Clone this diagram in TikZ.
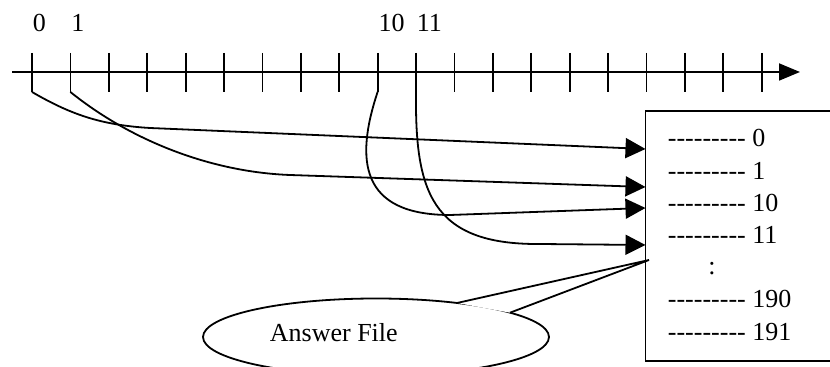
\documentclass[tikz,border=0pt]{standalone}
\usepackage{fontspec}
\setmainfont{Liberation Serif}[Ligatures=TeXOff]
\usetikzlibrary{arrows.meta, shapes.geometric, positioning}

\begin{document}
\begin{tikzpicture}[x=0.5pt, y=-0.5pt, line width=0.9pt,
  lbl/.style={inner sep=0pt, anchor=base west, font=\fontsize{13}{15.6}\selectfont},
  link/.style={-{Triangle[length=10pt, width=10pt]}}]
  \useasboundingbox (0,0) rectangle (830,367);
  \clip (0,0) rectangle (830,367);

  % Number line
  \draw[-{Triangle[length=10.5pt, width=8.5pt]}] (12,72) -- (800,72);
  \foreach \i in {0,...,19} {
    \draw (32+38.4*\i,53) -- (32+38.4*\i,92) coordinate (t\i);
  }
  \foreach \i/\v in {0/0, 1/1, 9/10, 10/11} {
    \node[lbl] (n\v) at (32+38.4*\i,32) {\v};
  }

  % Callout
  \draw (376,337) ellipse [x radius=173, y radius=38.5];
  \coordinate (b1) at (457,303);
  \coordinate (b2) at (510,312.7);
  \coordinate (tip) at (649,260);
  \fill[white] (b1) -- (tip) -- (b2) -- cycle;
  \draw (b1) -- (tip) -- (b2);
  \node[lbl] (btext) at (269,342) {Answer File};

  % Answer file
  \draw (840,111) -| (645.5,361) -- (840,361);
  \foreach \v/\k in {0/0, 1/1, 10/2, 11/3, 190/5, 191/6} {
    \node[lbl] (e\v) at (667,147+32.2*\k) {--------- \v};
  }
  \node[lbl, anchor=base] (dots) at (712,275) {:};

  % Links
  \coordinate (a0) at (645.5,149);
  \coordinate (a1) at (645.5,187);
  \coordinate (a10) at (645.5,208);
  \coordinate (a11) at (645.5,245);
  \draw[link] (t0) .. controls (70,114) and (100,125) .. (150,128) -- (a0);
  \draw[link] (t1) .. controls (130,140) and (210,172) .. (290,175) -- (a1);
  \draw[link] (t9) .. controls (355,160) and (360,215) .. (450,215) -- (a10);
  \draw[link] (t10) .. controls (415,190) and (430,245) .. (540,244) -- (a11);
\end{tikzpicture}
\end{document}
